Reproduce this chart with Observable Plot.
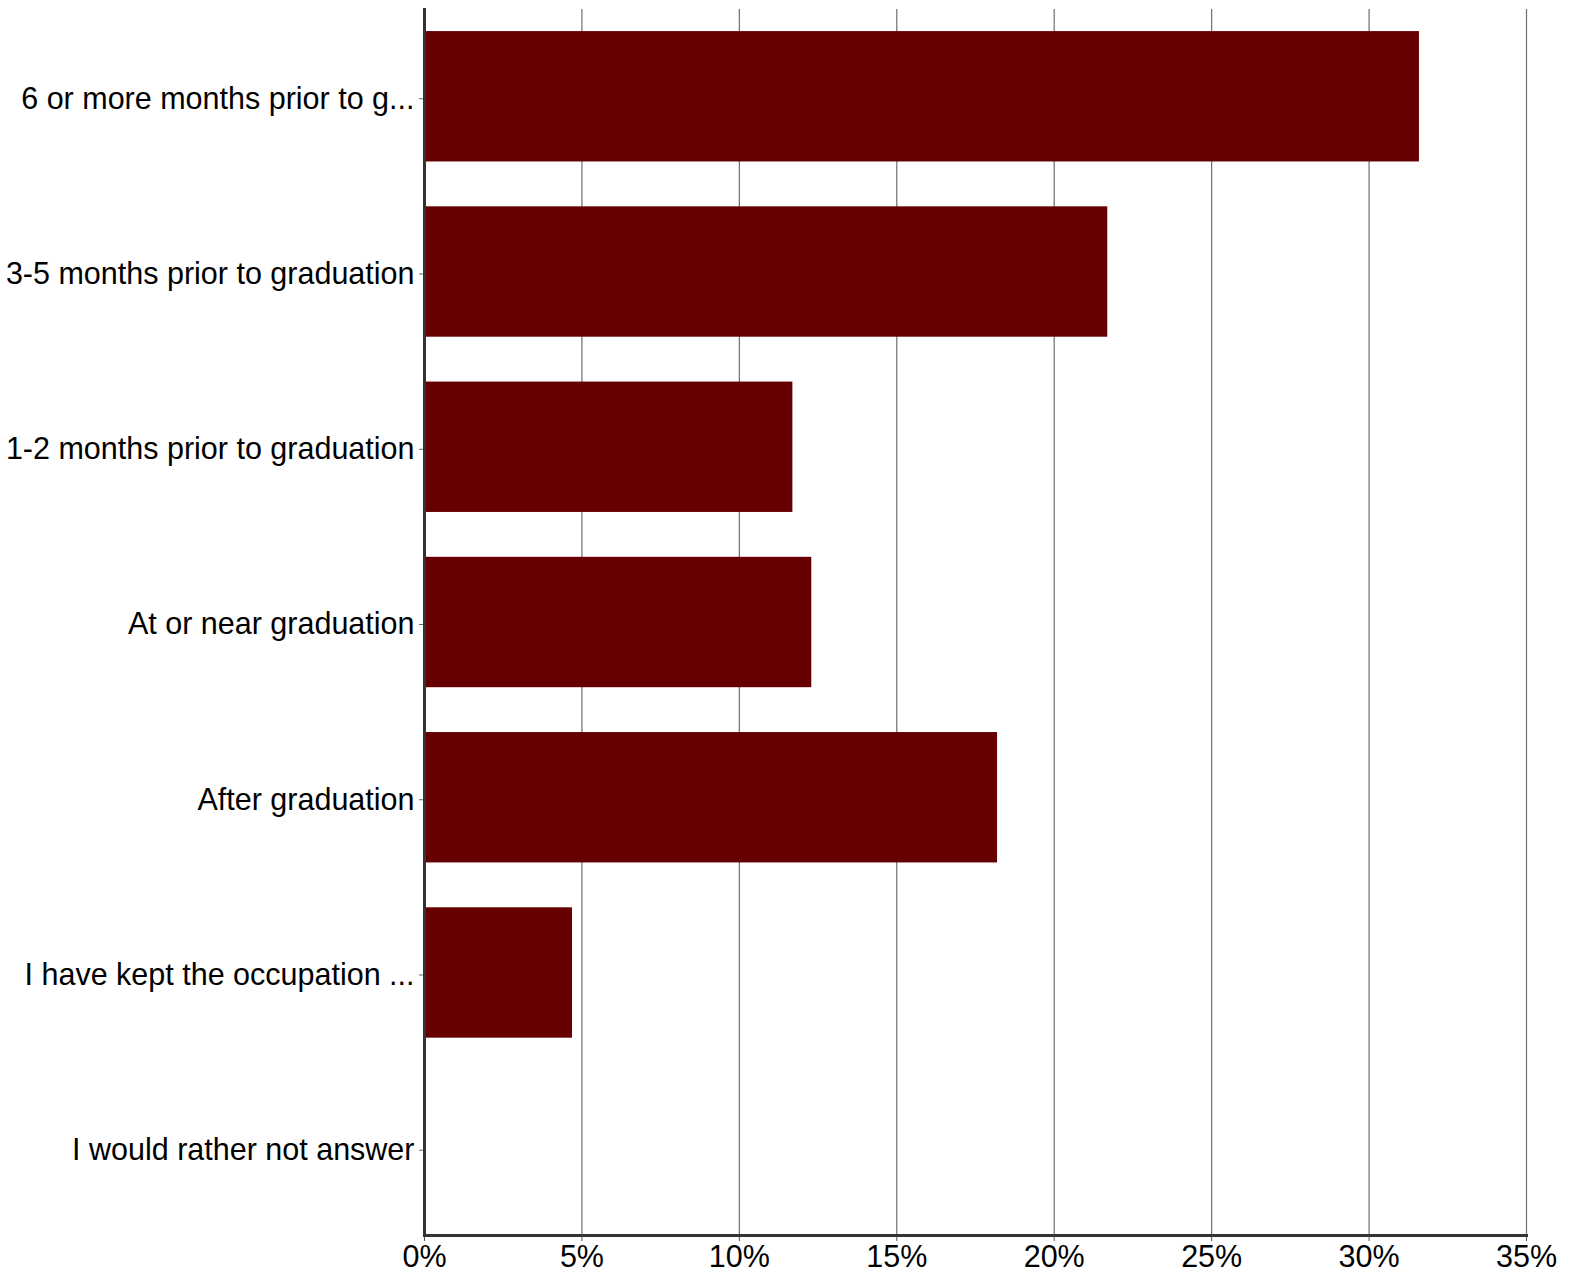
<!DOCTYPE html>
<html>
<head>
<meta charset="utf-8">
<script src="https://cdn.jsdelivr.net/npm/d3@7"></script>
<script src="https://cdn.jsdelivr.net/npm/@observablehq/plot@0.6"></script>
<style>
  html, body { margin: 0; padding: 0; background: #fff; }
  svg { display: block; }
</style>
</head>
<body>
<div id="chart"></div>
<script>
const categories = [
  "6 or more months prior to g...",
  "3-5 months prior to graduation",
  "1-2 months prior to graduation",
  "At or near graduation",
  "After graduation",
  "I have kept the occupation ...",
  "I would rather not answer"
];
const values = [31.6, 21.7, 11.7, 12.3, 18.2, 4.7, 0];
const xTicks = [0, 5, 10, 15, 20, 25, 30, 35];

const data = categories.map((c, i) => ({category: c, value: values[i]}));

const chart = Plot.plot({
  width: 1572,
  height: 1277,
  marginLeft: 424,
  marginRight: 46,
  marginTop: 9,
  marginBottom: 42,
  style: {fontFamily: "'Liberation Sans', Arial, sans-serif", fontSize: "30.5px", color: "#000", background: "#fff"},
  x: {domain: [0, 35], ticks: xTicks},
  y: {domain: categories, paddingInner: 0.256, paddingOuter: 0.126, align: 0.5, round: false},
  marks: [
    Plot.ruleX(xTicks.slice(1), {stroke: "#6e6e6e", strokeWidth: 1.2}),
    Plot.barX(data, {y: "category", x: "value", fill: "#660000"}),
    Plot.axisX({ticks: xTicks, tickFormat: d => d + "%", tickSize: 6, tickPadding: 4, fontSize: 30.5, stroke: "#555", label: null}),
    Plot.axisY({tickSize: 5, tickPadding: 5, fontSize: 30.5, dy: 2, stroke: "#666", label: null}),
    Plot.frame({anchor: "bottom", stroke: "#333", strokeWidth: 3}),
    Plot.frame({anchor: "left", stroke: "#333", strokeWidth: 3})
  ]
});
document.getElementById("chart").appendChild(chart);
</script>
</body>
</html>
